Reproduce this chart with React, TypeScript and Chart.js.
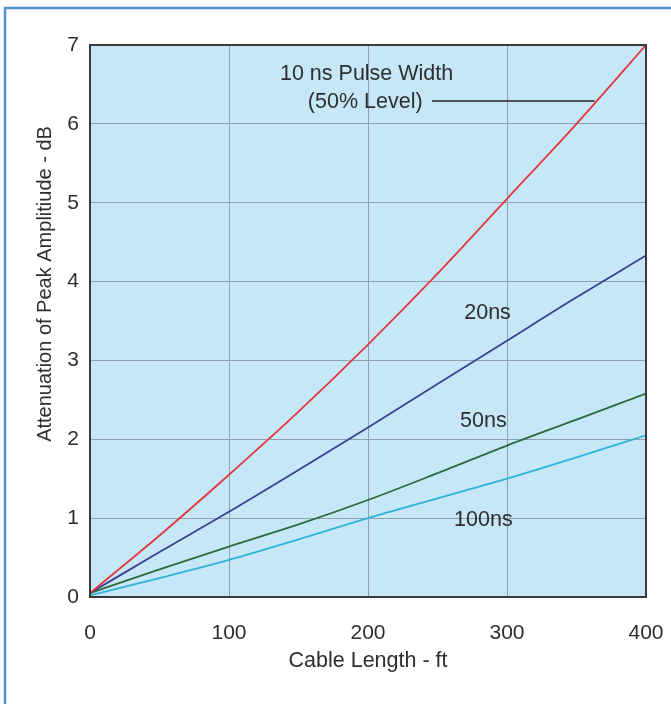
import React, { useEffect, useRef } from "react";
import { Chart, registerables } from "chart.js";

Chart.register(...registerables);

// ---- Data ----
const cableLength = [0, 50, 100, 150, 200, 250, 300, 350, 400];
const atten10ns = [0.05, 0.78, 1.55, 2.35, 3.2, 4.1, 5.05, 6.0, 7.0];
const atten20ns = [0.05, 0.57, 1.08, 1.61, 2.15, 2.7, 3.25, 3.8, 4.33];
const atten50ns = [0.05, 0.35, 0.64, 0.92, 1.23, 1.57, 1.92, 2.25, 2.58];
const atten100ns = [0.02, 0.24, 0.47, 0.73, 1.0, 1.25, 1.5, 1.77, 2.05];

const xTickValues = [0, 100, 200, 300, 400];
const yTickValues = [0, 1, 2, 3, 4, 5, 6, 7];

const seriesNames = ["10 ns", "20 ns", "50 ns", "100 ns"];
const seriesColors = ["#e2383c", "#3a3f90", "#2e6a3c", "#2fb4d6"];

// Text labels placed in data coordinates
const curveLabels = [
  { text: "10 ns Pulse Width", x: 199, y: 6.63 },
  { text: "(50% Level)", x: 198, y: 6.27 },
  { text: "20ns", x: 286, y: 3.6 },
  { text: "50ns", x: 283, y: 2.23 },
  { text: "100ns", x: 283, y: 0.98 },
];
const leaderLine = { x1: 246, x2: 363, y: 6.29 };

const FONT = '"Liberation Sans", Arial, Helvetica, sans-serif';
const TEXT_COLOR = "#2e2e2e";

const decorPlugin = {
  id: "decor",
  beforeDraw(chart: any) {
    const { ctx, chartArea } = chart;
    ctx.save();
    ctx.fillStyle = "#ffffff";
    ctx.fillRect(0, 0, chart.width, chart.height);
    // outer frame
    ctx.strokeStyle = "#4f8fd3";
    ctx.lineWidth = 2.5;
    ctx.strokeRect(5, 8, chart.width + 20, chart.height + 20);
    // plot background
    ctx.fillStyle = "#c5e7f7";
    ctx.fillRect(chartArea.left, chartArea.top, chartArea.right - chartArea.left, chartArea.bottom - chartArea.top);
    ctx.restore();
  },
  afterDatasetsDraw(chart: any) {
    const { ctx, chartArea, scales } = chart;
    const xs = scales.x;
    const ys = scales.y;
    ctx.save();
    // plot border
    ctx.strokeStyle = "#3a3a3a";
    ctx.lineWidth = 2;
    ctx.strokeRect(chartArea.left, chartArea.top, chartArea.right - chartArea.left, chartArea.bottom - chartArea.top);
    // curve labels
    ctx.fillStyle = TEXT_COLOR;
    ctx.font = `21.5px ${FONT}`;
    ctx.textAlign = "center";
    ctx.textBaseline = "middle";
    for (const l of curveLabels) {
      ctx.fillText(l.text, xs.getPixelForValue(l.x), ys.getPixelForValue(l.y));
    }
    // leader line
    ctx.strokeStyle = "#222";
    ctx.lineWidth = 1.5;
    ctx.beginPath();
    const ly = ys.getPixelForValue(leaderLine.y);
    ctx.moveTo(xs.getPixelForValue(leaderLine.x1), ly);
    ctx.lineTo(xs.getPixelForValue(leaderLine.x2), ly);
    ctx.stroke();
    // y axis title
    ctx.translate(45, 284);
    ctx.rotate(-Math.PI / 2);
    ctx.font = `20px ${FONT}`;
    ctx.fillStyle = TEXT_COLOR;
    ctx.fillText("Attenuation of Peak Amplitiude - dB", 0, 0);
    ctx.restore();
  },
};

export default function App() {
  const canvasRef = useRef<HTMLCanvasElement | null>(null);

  useEffect(() => {
    const canvas = canvasRef.current;
    if (!canvas) return;
    const seriesValues = [atten10ns, atten20ns, atten50ns, atten100ns];
    const chart = new Chart(canvas, {
      type: "line",
      data: {
        datasets: seriesValues.map((vals, i) => ({
          label: seriesNames[i],
          data: cableLength.map((x, j) => ({ x, y: vals[j] })),
          borderColor: seriesColors[i],
          borderWidth: 1.8,
          pointRadius: 0,
          fill: false,
          cubicInterpolationMode: "monotone" as const,
        })),
      },
      options: {
        responsive: false,
        animation: false,
        devicePixelRatio: 1,
        layout: { padding: { top: 45, right: 25, left: 0, bottom: 0 } },
        plugins: {
          legend: { display: false },
          tooltip: { enabled: false },
          title: { display: false },
        },
        scales: {
          x: {
            type: "linear",
            min: 0,
            max: 400,
            afterFit: (s: any) => {
              s.height = 107;
              s.paddingLeft = 0;
              s.paddingRight = 0;
            },
            afterBuildTicks: (s: any) => {
              s.ticks = xTickValues.map((v) => ({ value: v }));
            },
            ticks: {
              padding: 24,
              color: TEXT_COLOR,
              font: { family: FONT, size: 21 },
            },
            grid: { color: "#8ea1ad", lineWidth: 1, drawTicks: false },
            border: { display: false },
            title: {
              display: true,
              text: "Cable Length - ft",
              color: TEXT_COLOR,
              font: { family: FONT, size: 21.5 },
              padding: { top: 0, bottom: 30 },
            },
          },
          y: {
            type: "linear",
            min: 0,
            max: 7,
            afterFit: (s: any) => {
              s.width = 90;
              s.paddingTop = 0;
              s.paddingBottom = 0;
            },
            afterBuildTicks: (s: any) => {
              s.ticks = yTickValues.map((v) => ({ value: v }));
            },
            ticks: {
              padding: 11,
              color: TEXT_COLOR,
              font: { family: FONT, size: 21 },
            },
            grid: { color: "#8ea1ad", lineWidth: 1, drawTicks: false },
            border: { display: false },
          },
        },
      },
      plugins: [decorPlugin],
    });
    return () => chart.destroy();
  }, []);

  return (
    <div style={{ position: "absolute", left: 0, top: 0, width: 671, height: 704, background: "#fff" }}>
      <canvas ref={canvasRef} width={671} height={704} style={{ display: "block", width: 671, height: 704 }} />
    </div>
  );
}
